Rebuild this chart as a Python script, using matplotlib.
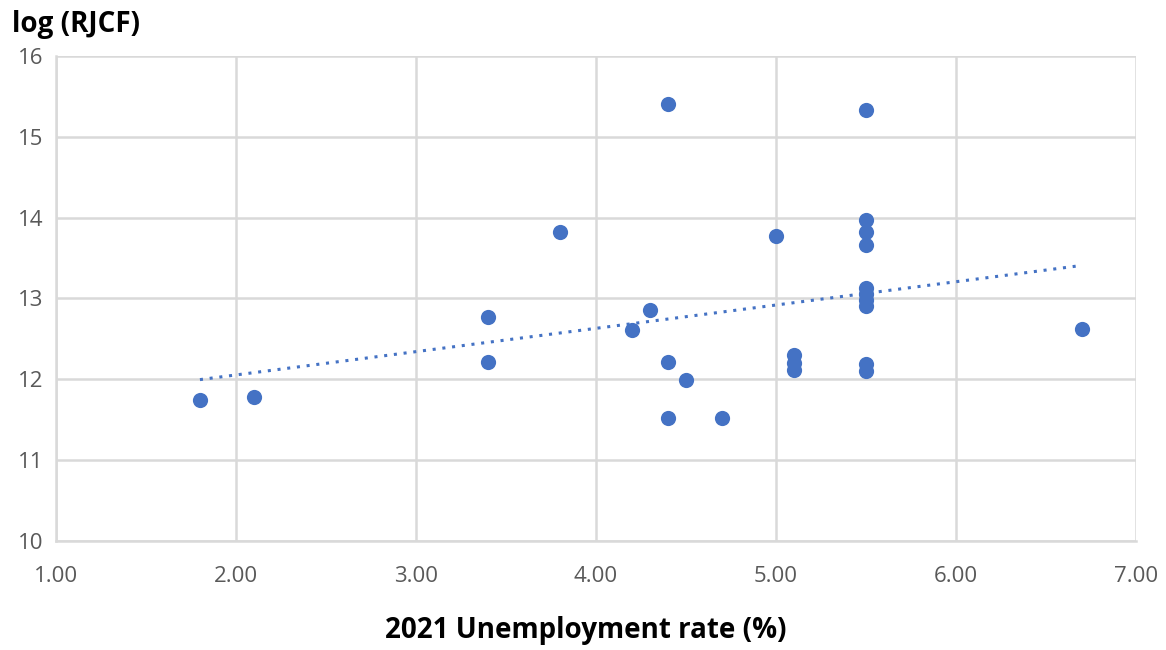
import matplotlib
matplotlib.use("Agg")
import matplotlib.pyplot as plt
import numpy as np

unemployment = [1.8, 2.1, 3.4, 3.4, 3.8, 4.2, 4.3, 4.4, 4.4, 4.5, 4.4, 4.7, 5.0,
                5.1, 5.1, 5.1, 5.5, 5.5, 5.5, 5.5, 5.5, 5.5, 5.5, 5.5, 5.5, 5.5, 6.7]
log_rjcf = [11.74, 11.78, 12.77, 12.21, 13.82, 12.61, 12.85, 15.40, 12.21, 11.99, 11.52, 11.52, 13.77,
            12.30, 12.20, 12.11, 15.33, 13.97, 13.82, 13.66, 13.13, 13.06, 12.98, 12.91, 12.19, 12.10, 12.62]
x_ticks = [1, 2, 3, 4, 5, 6, 7]
y_ticks = [10, 11, 12, 13, 14, 15, 16]

plt.rcParams['font.family'] = ['Open Sans', 'DejaVu Sans']

fig = plt.figure(figsize=(11.66, 6.5), dpi=100)
ax = fig.add_axes([0.048, 0.168, 0.926, 0.746])

x = np.array(unemployment)
y = np.array(log_rjcf)
ax.scatter(x, y, s=120, color='#4472C4', zorder=3, linewidths=0)

m, b = np.polyfit(x, y, 1)
xx = np.array([x.min(), x.max()])
ax.plot(xx, m * xx + b, linestyle=(0, (1, 2.2)), color='#4472C4', linewidth=2.2, zorder=2)

ax.set_xlim(1, 7)
ax.set_ylim(10, 16)
ax.set_xticks(x_ticks)
ax.set_xticklabels([f"{v:.2f}" for v in x_ticks])
ax.set_yticks(y_ticks)
ax.grid(True, color='#d9d9d9', linewidth=1.8, zorder=0)
ax.set_axisbelow(True)
for side in ['top', 'right']:
    ax.spines[side].set_visible(False)
for side in ['left', 'bottom']:
    ax.spines[side].set_color('#d9d9d9')
    ax.spines[side].set_linewidth(1.8)
ax.tick_params(axis='both', length=0, colors='#595959', labelsize=16)
ax.tick_params(axis='x', pad=18)
ax.tick_params(axis='y', pad=9)

fig.text(0.502, 0.03, "2021 Unemployment rate (%)", ha='center', va='center',
         fontsize=20, fontweight='bold', color='black')
fig.text(0.010, 0.963, "log (RJCF)", ha='left', va='center',
         fontsize=20, fontweight='bold', color='black')

fig.savefig("out.png", dpi=100)
